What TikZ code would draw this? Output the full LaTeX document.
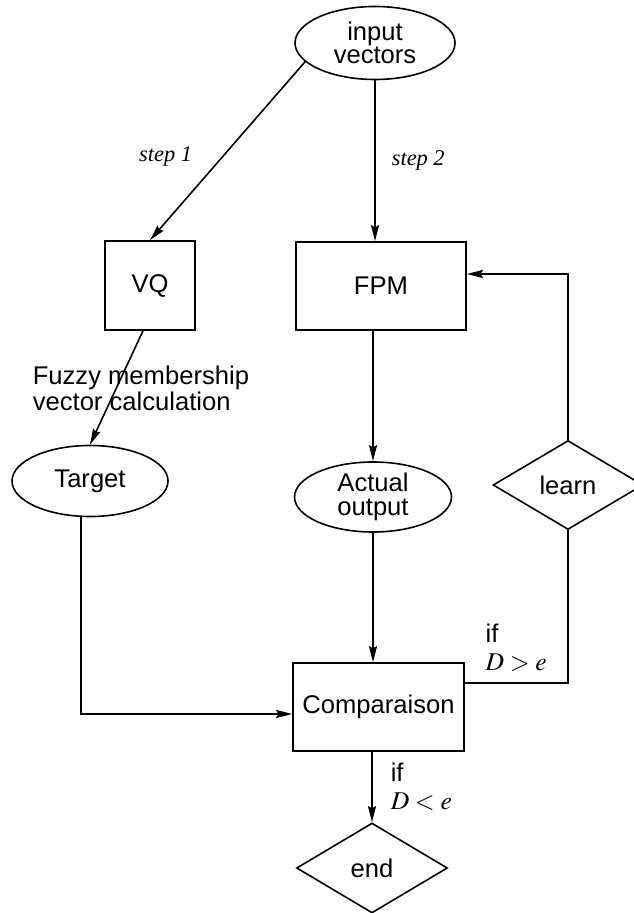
\documentclass[tikz,border=0pt]{standalone}
\usepackage{mathptmx}
\usepackage[no-math]{fontspec}
\setmainfont{Liberation Serif}
\setsansfont{Liberation Sans}
\usetikzlibrary{arrows.meta,shapes.geometric}

\begin{document}
\begin{tikzpicture}[x=0.5pt,y=-0.5pt,->,>={Stealth[length=8pt,width=4pt,inset=1pt]},
					line width=0.8pt,
					main node/.style={draw,font=\sffamily\fontsize{12.8}{11.8}\selectfont,inner sep=0pt,align=center},
					box node/.style={main node,rectangle},
					oval node/.style={main node,ellipse},
					test node/.style={main node,diamond},
					note/.style={font=\sffamily\fontsize{12.8}{11.8}\selectfont,inner sep=0pt,align=left},
					step note/.style={font=\rmfamily\itshape\fontsize{11.2}{13}\selectfont,inner sep=0pt}]
					\useasboundingbox (0,0) rectangle (633,913);
					\node[oval node,minimum width=80pt,minimum height=36.5pt] (input) at (375,43) {input\\vectors};
					\node[box node,minimum width=45pt,minimum height=44.5pt] (vq) at (150,285.5) {VQ};
					\node[box node,minimum width=85pt,minimum height=44pt] (fpm) at (381,286) {FPM};
					\node[oval node,minimum width=78pt,minimum height=35.5pt] (target) at (90,481) {Target};
					\node[oval node,minimum width=78.5pt,minimum height=35pt] (actual) at (373,497) {Actual\\output};
					\node[test node,minimum width=75pt,minimum height=44.5pt] (learn) at (568,485) {learn};
					\node[box node,minimum width=85.5pt,minimum height=44pt] (cmp) at (378.5,707) {Comparaison};
					\node[test node,minimum width=75.5pt,minimum height=45pt] (stop) at (372,868) {end};
					\node[note,anchor=west] (fuzzy) at (32,388) {Fuzzy membership\\vector calculation};

					\draw (input.195) -- node[step note,pos=0.53,left=15pt] (s1) {step 1} (vq.north);
					\draw (input.south) -- node[step note,midway,right=8pt] (s2) {step 2} (input.south |- fpm.north);
					\draw ([xshift=-3.5pt]vq.south) -- (target.north);
					\draw (actual.north |- fpm.south) -- (actual.north);
					\draw (actual.south) -- (actual.south |- cmp.north);
					\draw ([xshift=-4.5pt]target.south) |- ([yshift=-3.5pt]cmp.west);
					\draw[-] ([yshift=12pt]cmp.east) node[note,anchor=south west,xshift=10pt,yshift=5.5pt] (more) {if\\[2pt]$D > e$} -| (learn.south);
					\draw (learn.north) |- ([yshift=6pt]fpm.east);
					\draw (stop.north |- cmp.south) -- node[note,midway,anchor=west,xshift=9pt] (less) {if\\[2pt]$D < e$} (stop.north);
				\end{tikzpicture}
\end{document}
